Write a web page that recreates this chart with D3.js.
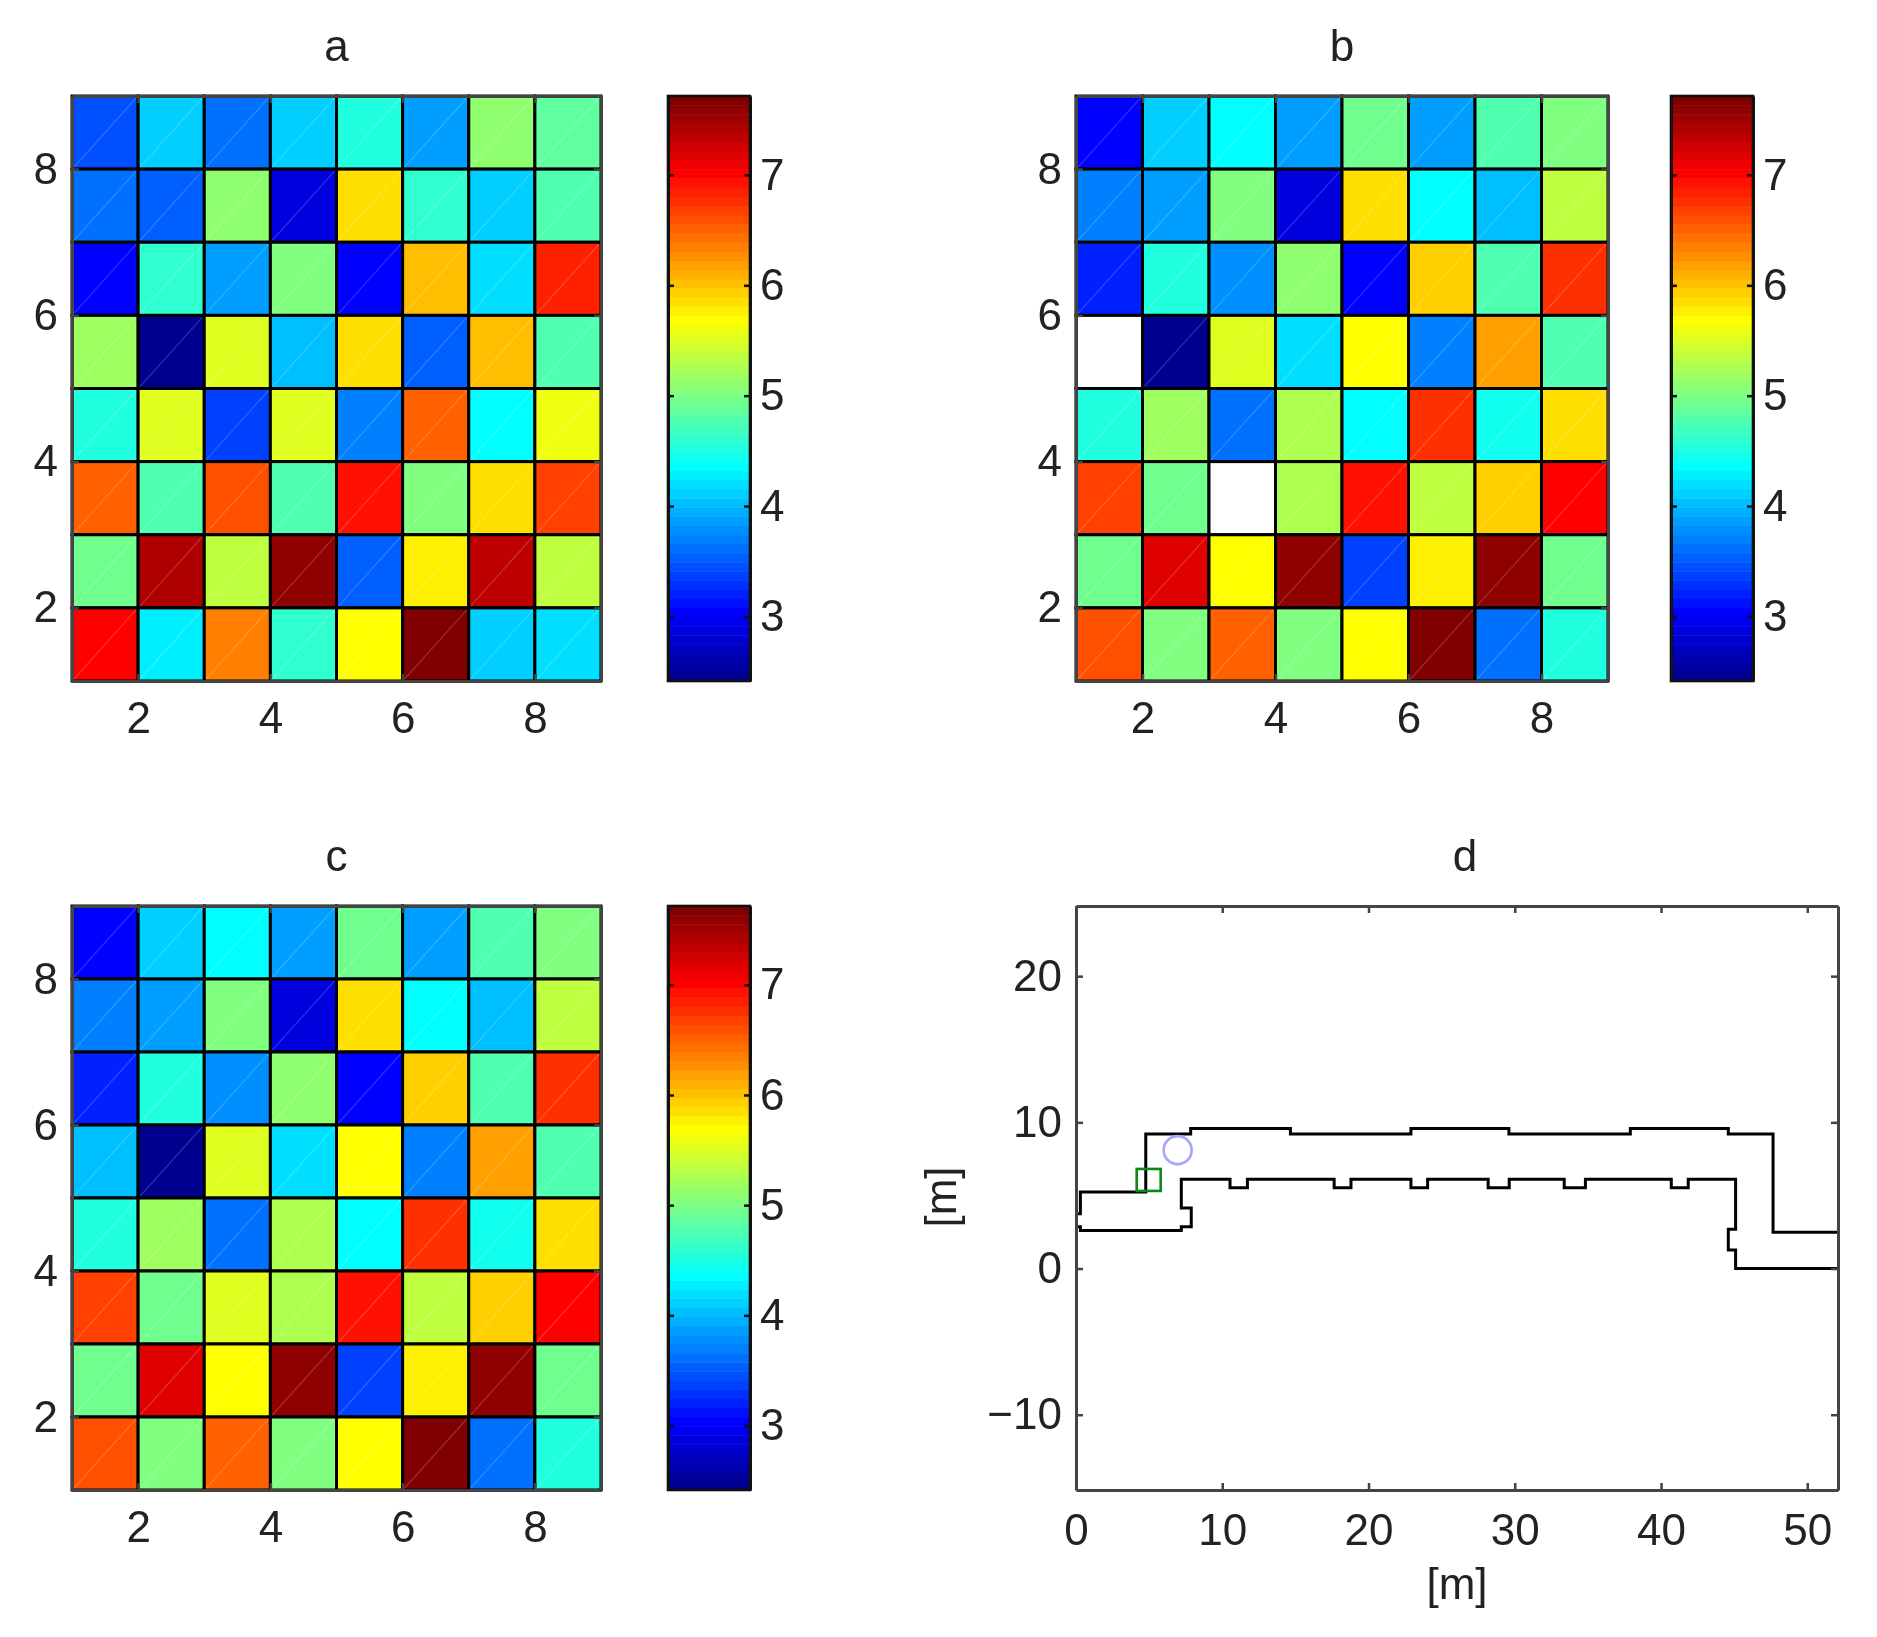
<!DOCTYPE html>
<html>
<head>
<meta charset="utf-8">
<script src="https://cdnjs.cloudflare.com/ajax/libs/d3/7.8.5/d3.min.js"></script>
<style>
  html, body { margin: 0; padding: 0; background: #fff; }
  svg { display: block; filter: blur(0.7px); }
  text { font-family: "Liberation Sans", Arimo, sans-serif; fill: #222; }
</style>
</head>
<body>
<div id="chart"></div>
<script>
// cell values, rows listed top (y 8-9) to bottom (y 1-2)
const valuesA = [
  [3.41, 4.10, 3.65, 4.10, 4.50, 3.87, 5.07, 4.85],
  [3.60, 3.55, 5.07, 2.90, 5.88, 4.60, 4.10, 4.75],
  [3.05, 4.60, 3.87, 5.00, 3.05, 6.02, 4.20, 6.85],
  [5.20, 2.45, 5.55, 4.00, 5.82, 3.55, 6.02, 4.75],
  [4.50, 5.50, 3.40, 5.55, 3.70, 6.50, 4.40, 5.58],
  [6.55, 4.80, 6.60, 4.80, 6.95, 5.05, 5.88, 6.65],
  [4.95, 7.40, 5.35, 7.60, 3.55, 5.78, 7.35, 5.35],
  [7.05, 4.30, 6.35, 4.65, 5.72, 7.70, 4.10, 4.20]
];
const valuesB = [
  [3.07, 4.12, 4.33, 3.90, 4.95, 3.90, 4.77, 5.00],
  [3.72, 3.87, 5.03, 2.90, 5.88, 4.40, 4.05, 5.32],
  [3.18, 4.50, 3.80, 5.07, 3.05, 5.93, 4.75, 6.80],
  [null, 2.42, 5.52, 4.22, 5.72, 3.72, 6.20, 4.78],
  [4.50, 5.20, 3.62, 5.27, 4.40, 6.80, 4.47, 5.88],
  [6.68, 4.93, null, 5.27, 6.90, 5.32, 5.93, 7.05],
  [4.93, 7.20, 5.72, 7.55, 3.40, 5.80, 7.62, 4.95],
  [6.62, 5.03, 6.52, 5.03, 5.72, 7.70, 3.65, 4.55]
];
const valuesC = [
  [3.07, 4.12, 4.33, 3.90, 4.95, 3.90, 4.77, 5.00],
  [3.72, 3.87, 5.03, 2.90, 5.88, 4.40, 4.05, 5.32],
  [3.18, 4.50, 3.80, 5.07, 3.05, 5.93, 4.75, 6.80],
  [4.00, 2.42, 5.52, 4.22, 5.72, 3.72, 6.20, 4.78],
  [4.50, 5.20, 3.62, 5.27, 4.40, 6.80, 4.47, 5.88],
  [6.68, 4.93, 5.52, 5.27, 6.90, 5.32, 5.93, 7.05],
  [4.93, 7.20, 5.72, 7.55, 3.40, 5.80, 7.62, 4.95],
  [6.62, 5.03, 6.52, 5.03, 5.72, 7.70, 3.65, 4.55]
];
const cellTicks = [2, 4, 6, 8];
const barTicks = [3, 4, 5, 6, 7];
const colorDomain = [2.415, 7.715];

// building outline in metres
const wallUpper = [[0,3.75],[0.3,3.75],[0.3,5.23],[4.77,5.23],[4.77,9.2],[7.84,9.2],[7.84,9.58],[14.66,9.58],[14.66,9.2],
  [22.9,9.2],[22.9,9.58],[29.6,9.58],[29.6,9.2],[37.9,9.2],[37.9,9.58],[44.6,9.58],[44.6,9.2],[47.66,9.2],[47.66,2.48],[52.1,2.48]];
const wallLower = [[0,2.85],[0.3,2.85],[0.3,2.6],[7.2,2.6],[7.2,2.85],[7.88,2.85],[7.88,4.14],[7.2,4.14],[7.2,6.11],
  [10.53,6.11],[10.53,5.53],[11.72,5.53],[11.72,6.11],[17.65,6.11],[17.65,5.53],[18.8,5.53],[18.8,6.11],
  [22.9,6.11],[22.9,5.53],[24.04,5.53],[24.04,6.11],[28.18,6.11],[28.18,5.53],[29.62,5.53],[29.62,6.11],
  [33.38,6.11],[33.38,5.53],[34.83,5.53],[34.83,6.11],[40.7,6.11],[40.7,5.53],[41.86,5.53],[41.86,6.11],
  [45.1,6.11],[45.1,2.68],[44.6,2.68],[44.6,1.26],[45.1,1.26],[45.1,0],[52.1,0]];
const circlePoint = [6.95, 8.1];
const squarePoint = [4.97, 6.06];
const mapXTicks = [0, 10, 20, 30, 40, 50];
const mapYTicks = [-10, 0, 10, 20];

const width = 1877, height = 1637;
const fontSize = 44;

const svg = d3.select("#chart").append("svg")
  .attr("width", width).attr("height", height);

// matlab jet with 64 levels
function jet(v) {
  const t = (v - colorDomain[0]) / (colorDomain[1] - colorDomain[0]);
  const i = Math.max(0, Math.min(63, Math.floor(t * 64)));
  const x = (i + 1) / 64;
  const c = k => Math.round(255 * Math.max(0, Math.min(1, k)));
  const r = c(Math.min(4 * x - 1.5, -4 * x + 4.5));
  const g = c(Math.min(4 * x - 0.5, -4 * x + 3.5));
  const b = c(Math.min(4 * x + 0.5, -4 * x + 2.5));
  return `rgb(${r},${g},${b})`;
}

function styleAxis(g, color) {
  g.selectAll("path.domain").attr("stroke", color).attr("stroke-width", 3);
  g.selectAll(".tick line").attr("stroke", color).attr("stroke-width", 2.5);
  g.selectAll("text").attr("font-size", fontSize).attr("fill", "#222");
  g.attr("font-family", null);
}

function boxAxes(layer, x, y, xTicks, yTicks, pad) {
  const [x0, x1] = x.range(), [y0, y1] = y.range();
  const tick = 7;
  layer.append("g").attr("transform", `translate(0,${y0})`)
    .call(d3.axisBottom(x).tickValues(xTicks).tickSizeInner(-tick).tickSizeOuter(0).tickPadding(pad.x))
    .call(styleAxis, "#444");
  layer.append("g").attr("transform", `translate(0,${y1})`)
    .call(d3.axisTop(x).tickValues(xTicks).tickSizeInner(-tick).tickSizeOuter(0).tickFormat(""))
    .call(styleAxis, "#444");
  layer.append("g").attr("transform", `translate(${x0},0)`)
    .call(d3.axisLeft(y).tickValues(yTicks).tickSizeInner(-tick).tickSizeOuter(0).tickPadding(pad.y))
    .call(styleAxis, "#444");
  layer.append("g").attr("transform", `translate(${x1},0)`)
    .call(d3.axisRight(y).tickValues(yTicks).tickSizeInner(-tick).tickSizeOuter(0).tickFormat(""))
    .call(styleAxis, "#444");
}

function heatPanel(values, title, box, barBox) {
  const x = d3.scaleLinear().domain([1, 9]).range([box.x0, box.x1]);
  const y = d3.scaleLinear().domain([1, 9]).range([box.y1, box.y0]);
  const g = svg.append("g");

  const cells = values.flatMap((row, r) => row.map((v, c) => ({ v, col: c + 1, row: 8 - r })));

  g.selectAll("rect.cell").data(cells).join("rect")
    .attr("class", "cell")
    .attr("x", d => x(d.col)).attr("y", d => y(d.row + 1))
    .attr("width", d => x(d.col + 1) - x(d.col))
    .attr("height", d => y(d.row) - y(d.row + 1))
    .attr("fill", d => d.v === null ? "#fff" : jet(d.v))
    .attr("stroke", "#000").attr("stroke-width", 3);

  // faint seam pcolor leaves across each cell
  g.selectAll("line.seam").data(cells.filter(d => d.v !== null)).join("line")
    .attr("class", "seam")
    .attr("x1", d => x(d.col) + 2).attr("y1", d => y(d.row) - 2)
    .attr("x2", d => x(d.col + 1) - 2).attr("y2", d => y(d.row + 1) + 2)
    .attr("stroke", "#fff").attr("stroke-opacity", 0.18).attr("stroke-width", 1.2);

  boxAxes(g, x, y, cellTicks, cellTicks, { x: 21, y: 14 });

  g.append("text").attr("x", (box.x0 + box.x1) / 2).attr("y", box.y0 - 35)
    .attr("text-anchor", "middle").attr("font-size", fontSize).text(title);

  // colorbar
  const bar = d3.scaleLinear().domain(colorDomain).range([barBox.y1, barBox.y0]);
  const step = (colorDomain[1] - colorDomain[0]) / 64;
  g.selectAll("rect.level").data(d3.range(64)).join("rect")
    .attr("class", "level")
    .attr("x", barBox.x0).attr("width", barBox.x1 - barBox.x0)
    .attr("y", d => bar(colorDomain[0] + (d + 1) * step))
    .attr("height", d => bar(colorDomain[0] + d * step) - bar(colorDomain[0] + (d + 1) * step) + 0.5)
    .attr("fill", d => jet(colorDomain[0] + (d + 0.5) * step));

  g.append("rect")
    .attr("x", barBox.x0).attr("y", barBox.y0)
    .attr("width", barBox.x1 - barBox.x0).attr("height", barBox.y1 - barBox.y0)
    .attr("fill", "none").attr("stroke", "#111").attr("stroke-width", 2.6);

  g.append("g").attr("transform", `translate(${barBox.x1},0)`)
    .call(d3.axisRight(bar).tickValues(barTicks).tickFormat(d3.format("d")).tickSizeInner(-6).tickSizeOuter(0).tickPadding(10))
    .call(styleAxis, "#111");
  g.append("g").attr("transform", `translate(${barBox.x0},0)`)
    .call(d3.axisLeft(bar).tickValues(barTicks).tickSizeInner(-6).tickSizeOuter(0).tickFormat(""))
    .call(styleAxis, "#111");
}

function mapPanel(box) {
  const x = d3.scaleLinear().domain([0, 52.1]).range([box.x0, box.x1]);
  const y = d3.scaleLinear().domain([-15.15, 24.8]).range([box.y1, box.y0]);
  const g = svg.append("g");

  const line = d3.line().x(d => x(d[0])).y(d => y(d[1]));
  g.selectAll("path.wall").data([wallUpper, wallLower]).join("path")
    .attr("class", "wall").attr("d", line)
    .attr("fill", "none").attr("stroke", "#000").attr("stroke-width", 3);

  g.append("rect")
    .attr("x", x(squarePoint[0]) - 12).attr("y", y(squarePoint[1]) - 11)
    .attr("width", 24).attr("height", 22)
    .attr("fill", "none").attr("stroke", "#0a8a14").attr("stroke-width", 2.6);

  g.append("circle")
    .attr("cx", x(circlePoint[0])).attr("cy", y(circlePoint[1])).attr("r", 14)
    .attr("fill", "none").attr("stroke", "#a5a5ff").attr("stroke-width", 2.6);

  boxAxes(g, x, y, mapXTicks, mapYTicks, { x: 24, y: 14 });

  g.append("text").attr("x", 1465).attr("y", box.y0 - 35)
    .attr("text-anchor", "middle").attr("font-size", fontSize).text("d");
  g.append("text").attr("x", 1457).attr("y", 1599)
    .attr("text-anchor", "middle").attr("font-size", fontSize).text("[m]");
  g.append("text").attr("transform", "translate(956,1197) rotate(-90)")
    .attr("text-anchor", "middle").attr("font-size", fontSize).text("[m]");
}

heatPanel(valuesA, "a", { x0: 72, x1: 601, y0: 96, y1: 681 }, { x0: 668, x1: 750, y0: 96, y1: 681 });
heatPanel(valuesB, "b", { x0: 1076, x1: 1608, y0: 96, y1: 681 }, { x0: 1671, x1: 1753, y0: 96, y1: 681 });
heatPanel(valuesC, "c", { x0: 72, x1: 601, y0: 906, y1: 1490 }, { x0: 668, x1: 750, y0: 906, y1: 1490 });
mapPanel({ x0: 1076, x1: 1838, y0: 906, y1: 1490 });
</script>
</body>
</html>
